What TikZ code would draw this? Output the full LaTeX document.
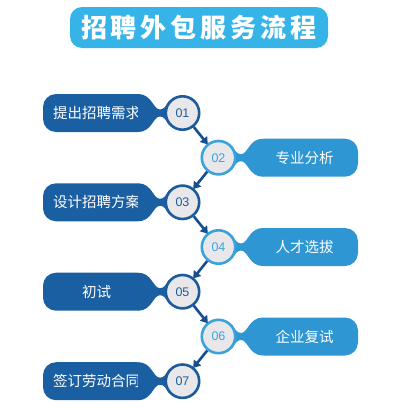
\documentclass[tikz,border=0pt]{standalone}
\usepackage{fontspec}
\setmainfont{Liberation Sans}
\newfontfamily\cjk{Noto Sans CJK SC}
\usetikzlibrary{arrows.meta}
\definecolor{titleblue}{HTML}{36B4E8}
\definecolor{dblue}{HTML}{1B5FA3}
\definecolor{lblue}{HTML}{2E96D2}
\definecolor{ringd}{HTML}{1D5C9C}
\definecolor{ringl}{HTML}{3BA2DC}
\definecolor{cgray}{HTML}{E8E8EA}
\definecolor{arrowc}{HTML}{174F8E}
\newcommand{\leftitem}[4]{%
  \node[boxd] (b#1) at (96.5,#2) {#3};
  \fill[dblue] (138,#2-19) .. controls (152,#2-19) and (153,#2-3.5) .. (160,#2-3.5)
    .. controls (164,#2-3.5) and (166,#2-7) .. (169,#2-12) -- (176,#2) -- (169,#2+12)
    .. controls (166,#2+7) and (164,#2+3.5) .. (160,#2+3.5)
    .. controls (153,#2+3.5) and (152,#2+19) .. (138,#2+19) -- cycle;
  \node[circd] (c#1) at (182.5,#2) {#4};
}
\newcommand{\rightitem}[4]{%
  \node[boxl] (b#1) at (304.5,#2) {#3};
  \fill[lblue] (263,#2-19) .. controls (249,#2-19) and (248,#2-3.5) .. (241,#2-3.5)
    .. controls (237,#2-3.5) and (235,#2-7) .. (232,#2-12) -- (225,#2) -- (232,#2+12)
    .. controls (235,#2+7) and (237,#2+3.5) .. (241,#2+3.5)
    .. controls (248,#2+3.5) and (249,#2+19) .. (263,#2+19) -- cycle;
  \node[circl] (c#1) at (218.5,#2) {#4};
}
\begin{document}
\begin{tikzpicture}[x=1pt,y=-1pt,
  boxbase/.style={rounded corners=13pt, minimum width=107pt, minimum height=38pt,
    text=white, font=\cjk\fontsize{14.5}{14.5}\selectfont, inner sep=0pt},
  boxd/.style={boxbase, fill=dblue},
  boxl/.style={boxbase, fill=lblue},
  circbase/.style={circle, fill=cgray, line width=2.6pt, minimum size=33.4pt, inner sep=0pt,
    font=\fontsize{12.5}{12.5}\selectfont},
  circd/.style={circbase, draw=ringd, text=ringd},
  circl/.style={circbase, draw=ringl, text=ringl},
  flow/.style={draw=arrowc, line width=2.6pt, -{Triangle[length=7pt,width=9pt]}, shorten >=-1pt}
]
\useasboundingbox (0,0) rectangle (410,410);
\node[fill=titleblue, rounded corners=12pt, minimum width=258pt, minimum height=41pt,
  text=white, font=\cjk\bfseries\fontsize{26}{26}\selectfont, inner sep=0pt] (title) at (199,27.5)
  {招\hspace{4pt}聘\hspace{4pt}外\hspace{4pt}包\hspace{4pt}服\hspace{4pt}务\hspace{4pt}流\hspace{4pt}程};
\leftitem{1}{113}{提出招聘需求}{01}
\rightitem{2}{157.7}{专业分析}{02}
\leftitem{3}{202.3}{设计招聘方案}{03}
\rightitem{4}{247}{人才选拔}{04}
\leftitem{5}{291.7}{初试}{05}
\rightitem{6}{336.5}{企业复试}{06}
\leftitem{7}{381.2}{签订劳动合同}{07}
\draw[flow] (c1) -- (c2);
\draw[flow] (c2) -- (c3);
\draw[flow] (c3) -- (c4);
\draw[flow] (c4) -- (c5);
\draw[flow] (c5) -- (c6);
\draw[flow] (c6) -- (c7);
\end{tikzpicture}
\end{document}
